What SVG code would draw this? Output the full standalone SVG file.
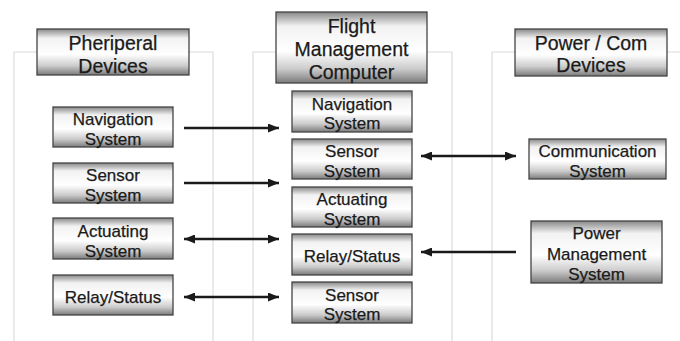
<svg xmlns="http://www.w3.org/2000/svg" width="680" height="341" viewBox="0 0 680 341">
<style>
.bx{fill:url(#g);stroke:#444444;stroke-width:1.3}
.t{font-family:"Liberation Sans",Arial,sans-serif;font-size:17px;fill:#1a1a1a;stroke:#1a1a1a;stroke-width:0.25;text-anchor:middle}
.h{font-family:"Liberation Sans",Arial,sans-serif;font-size:19.5px;fill:#1a1a1a;stroke:#1a1a1a;stroke-width:0.25;text-anchor:middle}
.frame{fill:none;stroke:#dcdcdc;stroke-width:1.2}
.ar{stroke:#1a1a1a;stroke-width:2.5;fill:none}
</style>
<defs>
<linearGradient id="g" x1="0" y1="0" x2="0" y2="1">
<stop offset="0" stop-color="#888888"/>
<stop offset="0.2" stop-color="#f2f2f2"/>
<stop offset="0.55" stop-color="#ffffff"/>
<stop offset="0.8" stop-color="#cccccc"/>
<stop offset="1" stop-color="#7a7a7a"/>
</linearGradient>
<marker id="a" markerUnits="userSpaceOnUse" markerWidth="11" markerHeight="9" refX="11" refY="4.5" orient="auto-start-reverse">
<path d="M0,0 L11,4.5 L0,9 z" fill="#1a1a1a"/>
</marker>
</defs>
<rect width="680" height="341" fill="#ffffff"/>
<g id="frames">
<path class="frame" d="M37,52 H14 V341 M189,52 H213 V341"/>
<path class="frame" d="M276,52 H253 V341 M427,52 H452 V341"/>
<path class="frame" d="M515,52 H492 V341 M667,52 H680"/>
</g>
<g id="hdr-peripheral">
<rect class="bx" x="37" y="29" width="152" height="46"/>
<text class="h" x="113" y="50">Pheriperal</text>
<text class="h" x="113" y="73">Devices</text>
</g>
<g id="hdr-fmc">
<rect class="bx" x="276" y="12" width="151" height="71"/>
<text class="h" x="351.5" y="33">Flight</text>
<text class="h" x="351.5" y="56">Management</text>
<text class="h" x="351.5" y="79">Computer</text>
</g>
<g id="hdr-power">
<rect class="bx" x="515" y="29" width="152" height="47"/>
<text class="h" x="591" y="50">Power / Com</text>
<text class="h" x="591" y="72">Devices</text>
</g>
<g id="l-nav">
<rect class="bx" x="53" y="107" width="120" height="40"/>
<text class="t" x="113" y="125">Navigation</text>
<text class="t" x="113" y="145">System</text>
</g>
<g id="l-sensor">
<rect class="bx" x="53" y="163" width="120" height="40"/>
<text class="t" x="113" y="181">Sensor</text>
<text class="t" x="113" y="201">System</text>
</g>
<g id="l-act">
<rect class="bx" x="53" y="218" width="120" height="41"/>
<text class="t" x="113" y="236.5">Actuating</text>
<text class="t" x="113" y="256.5">System</text>
</g>
<g id="l-relay">
<rect class="bx" x="53" y="275" width="120" height="40"/>
<text class="t" x="113" y="302.5">Relay/Status</text>
</g>
<g id="m-nav">
<rect class="bx" x="292" y="91" width="120" height="41"/>
<text class="t" x="352" y="109.5">Navigation</text>
<text class="t" x="352" y="129">System</text>
</g>
<g id="m-sensor">
<rect class="bx" x="292" y="139" width="120" height="40"/>
<text class="t" x="352" y="157">Sensor</text>
<text class="t" x="352" y="176.5">System</text>
</g>
<g id="m-act">
<rect class="bx" x="292" y="187" width="120" height="40"/>
<text class="t" x="352" y="205">Actuating</text>
<text class="t" x="352" y="224.5">System</text>
</g>
<g id="m-relay">
<rect class="bx" x="292" y="234" width="120" height="41"/>
<text class="t" x="352" y="261.5">Relay/Status</text>
</g>
<g id="m-sensor2">
<rect class="bx" x="292" y="282" width="120" height="41"/>
<text class="t" x="352" y="300.5">Sensor</text>
<text class="t" x="352" y="320">System</text>
</g>
<g id="r-comm">
<rect class="bx" x="529" y="139" width="137" height="40"/>
<text class="t" x="597.5" y="157">Communication</text>
<text class="t" x="597.5" y="176.5">System</text>
</g>
<g id="r-power">
<rect class="bx" x="531" y="221" width="131" height="62"/>
<text class="t" x="596.5" y="239">Power</text>
<text class="t" x="596.5" y="260">Management</text>
<text class="t" x="596.5" y="280">System</text>
</g>
<g id="connectors">
<line class="ar" x1="184" y1="128" x2="279" y2="128" marker-end="url(#a)"/>
<line class="ar" x1="184" y1="183" x2="279" y2="183" marker-end="url(#a)"/>
<line class="ar" x1="184" y1="239" x2="279" y2="239" marker-start="url(#a)" marker-end="url(#a)"/>
<line class="ar" x1="184" y1="297" x2="279" y2="297" marker-start="url(#a)" marker-end="url(#a)"/>
<line class="ar" x1="421" y1="156" x2="516" y2="156" marker-start="url(#a)" marker-end="url(#a)"/>
<line class="ar" x1="516" y1="252" x2="421" y2="252" marker-end="url(#a)"/>
</g>
</svg>
